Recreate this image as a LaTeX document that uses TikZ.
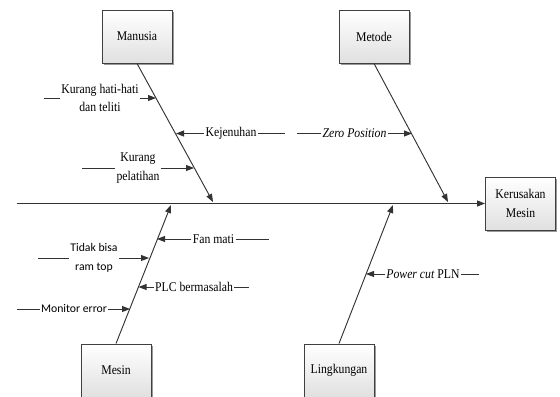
\documentclass[tikz,border=0pt]{standalone}
\usepackage{fontspec}
\setmainfont{Liberation Serif}[FakeStretch=0.88]
\newfontfamily\calfont{Carlito}
\usetikzlibrary{arrows.meta,shadows}

\tikzset{every picture/.style={line width=0.75pt}}
\tikzset{
  catbox/.style={draw=black!75, line width=0.7pt, top color=white, bottom color=black!12,
    drop shadow={shadow xshift=1.3pt, shadow yshift=-1.3pt, fill=black!40, opacity=1},
    minimum width=52.5pt, minimum height=39.75pt, inner sep=1pt, align=center,
    font=\rmfamily\fontsize{10}{14.5}\selectfont},
  causelbl/.style={inner sep=0.75pt, align=center, font=\rmfamily\fontsize{10}{14}\selectfont},
  sanslbl/.style={causelbl, font=\calfont\fontsize{8.8}{14}\selectfont},
  twig/.style={draw=black!80, line width=0.7pt},
  twigarrow/.style={twig, -{Triangle[length=6pt,width=4.5pt]}},
}

\begin{document}
\begin{tikzpicture}[x=0.75pt,y=0.75pt,yscale=-1,xscale=1]
\useasboundingbox (0,0) rectangle (560,396);

% Category boxes
\node [catbox] (manusia) at (137,36.5) {Manusia};
\node [catbox] (metode) at (374,36.5) {Metode};
\node [catbox] (mesin) at (116,370.5) {Mesin};
\node [catbox] (lingkungan) at (339,370.5) {Lingkungan};
\node [catbox] (kerusakan) at (520.5,203.5) {Kerusakan\\Mesin};

% Spine
\coordinate (spine) at (17,203.5);
\draw [twigarrow] (spine) -- (kerusakan);

% Main bones
\coordinate (manusia-t) at (213,202);
\coordinate (metode-t) at (448,202);
\coordinate (mesin-t) at (171,205);
\coordinate (lingkungan-t) at (393,205);
\draw [twigarrow] (manusia.south) -- (manusia-t);
\draw [twigarrow] (metode.south) -- (metode-t);
\draw [twigarrow] (mesin.north) -- (mesin-t);
\draw [twigarrow] (lingkungan.north) -- (lingkungan-t);

% Text Node
\node [causelbl] (hatihati) at (100,98) {Kurang hati-hati\\dan teliti};
\coordinate (hatihati-s) at (44,98);
\coordinate (hatihati-t) at (156,98);
\draw [twig] (hatihati-s) -- (hatihati);
\draw [twigarrow] (hatihati) -- (hatihati-t);

% Text Node
\node [causelbl] (jenuh) at (231,133.5) {Kejenuhan};
\coordinate (jenuh-s) at (285,133.5);
\coordinate (jenuh-t) at (176,133.5);
\draw [twig] (jenuh-s) -- (jenuh);
\draw [twigarrow] (jenuh) -- (jenuh-t);

% Text Node
\node [causelbl] (zero) at (354.5,133.5) {\textit{Zero Position}};
\coordinate (zero-s) at (297,133.5);
\coordinate (zero-t) at (412,133.5);
\draw [twig] (zero-s) -- (zero);
\draw [twigarrow] (zero) -- (zero-t);

% Text Node
\node [causelbl] (latih) at (138,168) {Kurang\\pelatihan};
\coordinate (latih-s) at (82,168);
\coordinate (latih-t) at (194,168);
\draw [twig] (latih-s) -- (latih);
\draw [twigarrow] (latih) -- (latih-t);

% Text Node
\node [causelbl] (fan) at (213.5,239) {Fan mati};
\coordinate (fan-s) at (269,239);
\coordinate (fan-t) at (157,239);
\draw [twig] (fan-s) -- (fan);
\draw [twigarrow] (fan) -- (fan-t);

% Text Node
\node [sanslbl] (ramtop) at (94,258) {Tidak bisa\\ram top};
\coordinate (ramtop-s) at (38,258);
\coordinate (ramtop-t) at (149,258);
\draw [twig] (ramtop-s) -- (ramtop);
\draw [twigarrow] (ramtop) -- (ramtop-t);

% Text Node
\node [causelbl] (plc) at (194,287) {PLC bermasalah};
\coordinate (plc-s) at (249,287);
\coordinate (plc-t) at (138.5,287);
\draw [twig] (plc-s) -- (plc);
\draw [twigarrow] (plc) -- (plc-t);

% Text Node
\node [sanslbl] (monitor) at (74,309) {Monitor error};
\coordinate (monitor-s) at (17,309);
\coordinate (monitor-t) at (130,309);
\draw [twig] (monitor-s) -- (monitor);
\draw [twigarrow] (monitor) -- (monitor-t);

% Text Node
\node [causelbl] (power) at (423,274) {\textit{Power cut} PLN};
\coordinate (power-s) at (479,274);
\coordinate (power-t) at (366,274);
\draw [twig] (power-s) -- (power);
\draw [twigarrow] (power) -- (power-t);

\end{tikzpicture}
\end{document}
